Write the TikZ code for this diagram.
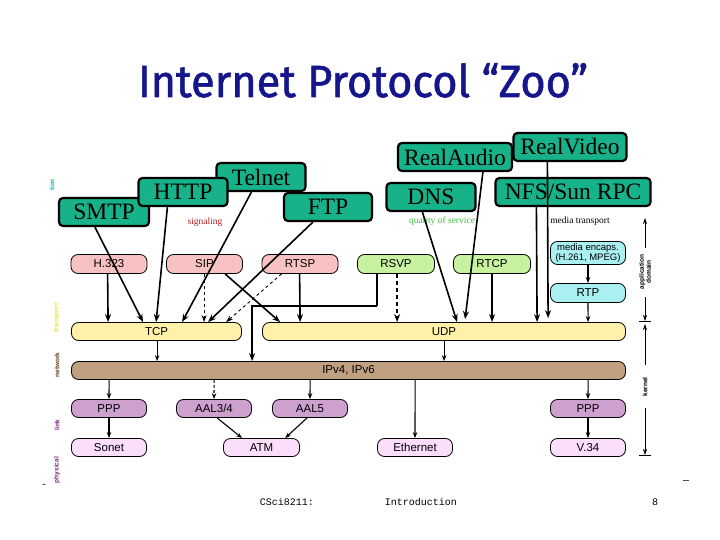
\documentclass[tikz,border=0pt]{standalone}
\usepackage{fontspec}
\usepackage{graphicx}
\setmainfont{Liberation Serif}
\newfontfamily\sansf{Liberation Sans}
\newfontfamily\monof{Liberation Mono}
\newfontfamily\titlef[FakeBold=1.3]{Fira Sans}
\usetikzlibrary{arrows.meta}
\definecolor{appgreen}{RGB}{24,178,138}
\definecolor{sigpink}{RGB}{248,194,194}
\definecolor{qosgreen}{RGB}{200,242,160}
\definecolor{medcyan}{RGB}{170,240,240}
\definecolor{trayellow}{RGB}{255,240,170}
\definecolor{nettan}{RGB}{192,160,128}
\definecolor{linkpurple}{RGB}{206,160,206}
\definecolor{phypink}{RGB}{250,222,250}
\definecolor{titleblue}{RGB}{22,22,140}
\definecolor{sigred}{RGB}{176,32,32}
\definecolor{qostext}{RGB}{64,192,64}
\definecolor{appteal}{RGB}{40,170,170}
\definecolor{trtext}{RGB}{230,230,50}
\definecolor{nettext}{RGB}{100,64,32}
\definecolor{linktext}{RGB}{128,32,128}
\tikzset{
  app/.style={draw=black, line width=2.2pt, rounded corners=4pt, fill=appgreen,
    inner sep=0pt, font=\fontsize{23.5}{26}\selectfont},
  pbox/.style={draw=black, line width=0.8pt, rounded corners=7pt, inner sep=0pt,
    minimum height=19pt, font=\sansf\fontsize{11.5}{13}\selectfont},
  arr/.style={-{Stealth[length=8pt,width=6pt]}, line width=1.6pt},
  tarr/.style={-{Stealth[length=6pt,width=4.5pt]}, line width=1.1pt},
  darr/.style={arr, dash pattern=on 4pt off 3pt},
  tdarr/.style={-{Stealth[length=7pt,width=5pt]}, line width=0.9pt, dash pattern=on 3pt off 3pt},
  sidelbl/.style={rotate=90, inner sep=0pt, font=\sansf\bfseries\fontsize{6.5}{7}\selectfont},
  smalllbl/.style={inner sep=0pt, font=\fontsize{9.5}{10}\selectfont},
  foot/.style={inner sep=0pt, font=\monof\fontsize{10}{12}\selectfont},
  scalearr/.style={-{Stealth[length=6pt,width=4pt]}, line width=0.6pt}
}
\begin{document}
\begin{tikzpicture}[x=1pt,y=-1pt]
\fill[white] (0,0) rectangle (720,540);
\useasboundingbox (0,0) rectangle (720,540);

% title
\node[anchor=base, text=titleblue, inner sep=0pt] (title) at (363,97)
  {\resizebox{450pt}{\height}{\titlef\fontsize{45}{50}\selectfont Internet Protocol “Zoo”}};

% application boxes
\node[app, minimum width=90pt, minimum height=28pt] (smtp) at (104,212) {SMTP};
\node[app, minimum width=89pt, minimum height=28pt] (telnet) at (261,177) {Telnet};
\node[app, minimum width=89pt, minimum height=28pt] (http) at (183,192) {HTTP};
\node[app, minimum width=88pt, minimum height=28pt] (ftp) at (328,207) {FTP};
\node[app, minimum width=114pt, minimum height=28pt] (raudio) at (455,157) {RealAudio};
\node[app, minimum width=113pt, minimum height=28pt] (rvideo) at (570,147) {RealVideo};
\node[app, minimum width=89pt, minimum height=28pt] (dns) at (431,197) {DNS};
\node[app, minimum width=155pt, minimum height=28pt] (nfs) at (573,192) {NFS/Sun RPC};

% labels
\node[smalllbl, text=sigred] (lsig) at (205,222) {signaling};
\node[smalllbl, text=qostext] (lqos) at (442,221) {quality of service};
\node[smalllbl, text=black] (lmed) at (580,221) {media transport};

% signaling / qos / media boxes
\node[pbox, fill=sigpink, minimum width=76pt] (h323) at (109,264) {H.323};
\node[pbox, fill=sigpink, minimum width=76pt] (sip) at (204.5,264) {SIP};
\node[pbox, fill=sigpink, minimum width=76pt] (rtsp) at (300,264) {RTSP};
\node[pbox, fill=qosgreen, minimum width=77pt] (rsvp) at (396,264) {RSVP};
\node[pbox, fill=qosgreen, minimum width=77pt] (rtcp) at (492,264) {RTCP};
\node[pbox, fill=medcyan, minimum width=75pt, minimum height=23pt, align=center,
  font=\sansf\fontsize{9.5}{10.5}\selectfont] (encaps) at (588,253) {media encaps.\\(H.261, MPEG)};
\node[pbox, fill=medcyan, minimum width=75pt] (rtp) at (588,293) {RTP};

% transport
\node[pbox, fill=trayellow, minimum width=170pt, minimum height=18pt] (tcp) at (156.5,331.5) {TCP};
\node[pbox, fill=trayellow, minimum width=363pt, minimum height=18pt] (udp) at (444,331.5) {UDP};
% network
\node[pbox, fill=nettan, minimum width=554pt, minimum height=18pt] (ip) at (348.5,370.5) {IPv4, IPv6};
% link
\node[pbox, fill=linkpurple, minimum width=75pt, minimum height=18pt] (ppp1) at (109,408.5) {PPP};
\node[pbox, fill=linkpurple, minimum width=75pt, minimum height=18pt] (aal34) at (214,408.5) {AAL3/4};
\node[pbox, fill=linkpurple, minimum width=75pt, minimum height=18pt] (aal5) at (310,408.5) {AAL5};
\node[pbox, fill=linkpurple, minimum width=75pt, minimum height=18pt] (ppp2) at (588,408.5) {PPP};
% physical
\node[pbox, fill=phypink, minimum width=75pt, minimum height=18pt] (sonet) at (109,447.5) {Sonet};
\node[pbox, fill=phypink, minimum width=76pt, minimum height=18pt] (atm) at (261.5,447.5) {ATM};
\node[pbox, fill=phypink, minimum width=75pt, minimum height=18pt] (eth) at (415,447.5) {Ethernet};
\node[pbox, fill=phypink, minimum width=75pt, minimum height=18pt] (v34) at (588,447.5) {V.34};

% connectors to TCP
\draw[arr] ([xshift=37pt]smtp.south west) -- ([xshift=72pt]tcp.north west);
\draw[arr] ([xshift=30pt]http.south west) -- ([xshift=85pt]tcp.north west);
\draw[arr] ([xshift=36pt]telnet.south west) -- ([xshift=111pt]tcp.north west);
\draw[arr] ([xshift=30pt]ftp.south west) -- ([xshift=137pt]tcp.north west);
\draw[arr] ([xshift=37pt]h323.south west) -- ([xshift=37pt]tcp.north west);
\draw[tdarr] ([xshift=38pt]sip.south west) -- ([xshift=133pt]tcp.north west);
\draw[tdarr] ([xshift=20pt]rtsp.south west) -- ([xshift=155pt]tcp.north west);
% connectors to UDP
\draw[arr] ([xshift=59pt]sip.south west) -- ([xshift=18pt]udp.north west);
\draw[arr] ([xshift=38pt]rtsp.south west) -- ([xshift=38pt]udp.north west);
\draw[line width=1.6pt] ([xshift=20pt]rsvp.south west) -- ++(0,32) coordinate (rsvpk);
\draw[arr] (rsvpk) -| ([xshift=181pt]ip.north west);
\draw[darr] ([xshift=40pt]rsvp.south west) -- ([xshift=135pt]udp.north west);
\draw[arr] ([xshift=37pt]dns.south west) -- ([xshift=195pt]udp.north west);
\draw[arr] ([xshift=86pt]raudio.south west) -- ([xshift=203pt,yshift=3pt]udp.north west);
\draw[arr] ([xshift=39pt]rtcp.south west) -- ([xshift=230pt]udp.north west);
\draw[arr] ([xshift=42pt]nfs.south west) -- ([xshift=275pt]udp.north west);
\draw[arr] ([xshift=35pt]rvideo.south west) -- ([xshift=286pt,yshift=4pt]udp.north west);
\draw[tarr] (encaps.south) -- (rtp.north);
\draw[tarr] (rtp.south) -- ([xshift=326pt]udp.north west);
% to IP
\draw[tarr] ([xshift=86pt]tcp.south west) -- ([xshift=86pt]ip.north west);
\draw[tarr] ([xshift=182pt]udp.south west) -- ([xshift=373pt]ip.north west);
% IP to link
\draw[tarr] ([xshift=38pt]ip.south west) -- (ppp1.north);
\draw[tarr, dash pattern=on 3pt off 2pt] ([xshift=143pt]ip.south west) -- (aal34.north);
\draw[tarr] ([xshift=239pt]ip.south west) -- (aal5.north);
\draw[tarr] ([xshift=344pt]ip.south west) -- (eth.north);
\draw[tarr] ([xshift=517pt]ip.south west) -- (ppp2.north);
% link to physical
\draw[tarr] (ppp1.south) -- (sonet.north);
\draw[tarr] ([xshift=41pt]aal34.south west) -- ([xshift=19pt]atm.north west);
\draw[tarr] ([xshift=35pt]aal5.south west) -- ([xshift=62pt]atm.north west);
\draw[tarr] (ppp2.south) -- (v34.north);

% left layer labels
\node[sidelbl, text=appteal] (ltion) at (52,185) {tion};
\node[sidelbl, text=trtext] (ltrans) at (57,318) {transport};
\node[sidelbl, text=nettext] (lnet) at (57,365) {network};
\node[sidelbl, text=linktext] (llink) at (57,425) {link};
\node[sidelbl, text=linktext] (lphys) at (57,470) {physical};

% right scale
\node[sidelbl, align=center] (lappd) at (645,272) {application\\domain};
\node[sidelbl] (lkern) at (645,387) {kernel};
\coordinate (s1) at (645,248);
\coordinate (s1t) at (645,218);
\coordinate (s2) at (645,297);
\coordinate (s2t) at (645,321);
\coordinate (s3) at (645,365);
\coordinate (s3t) at (645,324);
\coordinate (s4) at (645,408);
\coordinate (s4t) at (645,455);
\draw[scalearr] (s1) -- (s1t);
\draw[scalearr] (s2) -- (s2t);
\draw[scalearr] (s3) -- (s3t);
\draw[scalearr] (s4) -- (s4t);
\draw[line width=0.6pt] ([xshift=-6pt]s2t) -- ([xshift=6pt]s2t);
\draw[line width=0.6pt] ([xshift=-6pt]s4t) -- ([xshift=6pt]s4t);

% footer
\node[foot] (f1) at (287,502) {CSci8211:};
\node[foot] (f2) at (421,502) {Introduction};
\node[foot] (f3) at (655,502) {8};
\node[foot] (fd1) at (44,486) {-};
\node[foot] (fd2) at (686,482) {—};
\end{tikzpicture}
\end{document}
